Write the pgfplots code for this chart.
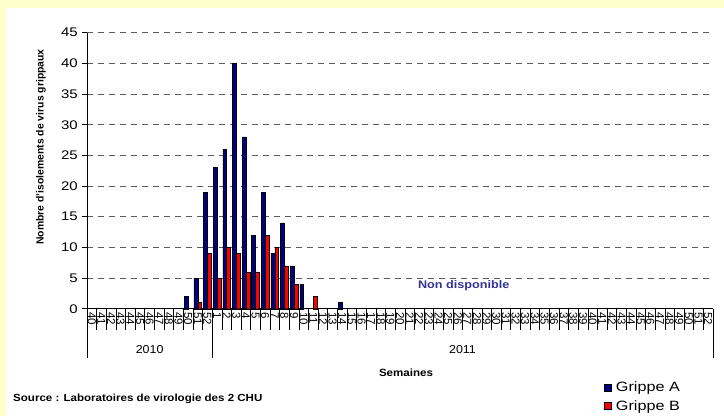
\documentclass[border=0pt]{standalone}
\usepackage{pgfplots}
\pgfplotsset{compat=1.18}
\usepackage{fontspec}
\setmainfont{Liberation Sans}
\definecolor{bgyellow}{RGB}{255,255,204}
\definecolor{navyA}{RGB}{0,0,128}
\definecolor{redB}{RGB}{255,0,0}
\definecolor{txtblue}{RGB}{51,51,153}
\definecolor{gridgray}{RGB}{90,90,90}
\begin{document}
\begin{tikzpicture}[x=1pt,y=1pt]
\fill[bgyellow] (0,0) rectangle (724,416);
\fill[white] (6,0) rectangle (724,408);
\begin{axis}[
  at={(87pt,107.3pt)}, anchor=south west,
  width=626pt, height=276pt, scale only axis,
  xmin=-0.5, xmax=64.5, ymin=0, ymax=45,
  axis lines*=left,
  axis line style={black, line width=0.6pt},
  tick align=outside,
  major tick length=5pt,
  minor tick length=21pt,
  ytick={0,5,...,45},
  ytick style={black, line width=0.6pt},
  xtick={0,...,64},
  major x tick style={draw=none},
  minor xtick={-0.5,0.5,...,64.5},
  minor x tick style={black, line width=0.6pt},
  xticklabels={40,41,42,43,44,45,46,47,48,49,50,51,52,1,2,3,4,5,6,7,8,9,10,11,12,13,14,15,16,17,18,19,20,21,22,23,24,25,26,27,28,29,30,31,32,33,34,35,36,37,38,39,40,41,42,43,44,45,46,47,48,49,50,51,52},
  xticklabel style={rotate=-90, anchor=west, font=\fontsize{11.5}{11.5}\selectfont, inner sep=0.5pt, xshift=-2pt},
  yticklabel style={font=\fontsize{12.5}{12.5}\selectfont, xscale=1.2},
  /pgf/number format/assume math mode=true,
  ymajorgrids,
  grid style={gridgray, line width=0.9pt, dash pattern=on 6pt off 5pt},
  clip=false,
  legend style={at={(axis description cs:0.8258,-0.258)}, anchor=north west, draw=none, fill=none, inner sep=0pt, row sep=3pt, font=\fontsize{13.5}{13.5}\selectfont, nodes={xscale=1.2}},
  legend cell align=left,
]
\addplot[ybar, bar width=0.4, bar shift=-0.2, fill=navyA, draw=black, line width=0.4pt,
  legend image code/.code={\draw[fill=navyA, draw=black, line width=0.4pt] (0pt,-3.4pt) rectangle (6.8pt,3.4pt); \path (9pt,0pt);}]
  coordinates {(10,2) (11,5) (12,19) (13,23) (14,26) (15,40) (16,28) (17,12) (18,19) (19,9) (20,14) (21,7) (22,4) (26,1)};
\addlegendentry{Grippe A}
\addplot[ybar, bar width=0.4, bar shift=0.2, fill=redB, draw=black, line width=0.4pt,
  legend image code/.code={\draw[fill=redB, draw=black, line width=0.4pt] (0pt,-3.4pt) rectangle (6.8pt,3.4pt); \path (9pt,0pt);}]
  coordinates {(11,1) (12,9) (13,5) (14,10) (15,9) (16,6) (17,6) (18,12) (19,10) (20,7) (21,4) (23,2)};
\addlegendentry{Grippe B}
\draw[black, line width=0.6pt] (axis cs:-0.5,0) -- ++(0pt,-49.5pt);
\draw[black, line width=0.6pt] (axis cs:12.5,0) -- ++(0pt,-49.5pt);
\draw[black, line width=0.6pt] (axis cs:64.5,0) -- ++(0pt,-49.5pt);
\end{axis}
\node[font=\fontsize{11.5}{12}\selectfont, xscale=1.08] at (149.6,66) {2010};
\node[font=\fontsize{11.5}{12}\selectfont, xscale=1.08] at (462.5,66) {2011};
\node[font=\bfseries\fontsize{10.5}{11}\selectfont, xscale=1.1] at (406,43) {Semaines};
\node[font=\bfseries\fontsize{10.3}{11}\selectfont, xscale=1.12, anchor=west, inner sep=0pt] at (13,17) {Source : Laboratoires de virologie des 2 CHU};
\node[rotate=90, font=\bfseries\fontsize{10.4}{11}\selectfont] at (41,269) {Nombre d'isolements de virus grippaux};
\node[font=\bfseries\fontsize{11}{12}\selectfont, text=txtblue, xscale=1.15] at (463.7,130) {Non disponible};
\end{tikzpicture}
\end{document}
